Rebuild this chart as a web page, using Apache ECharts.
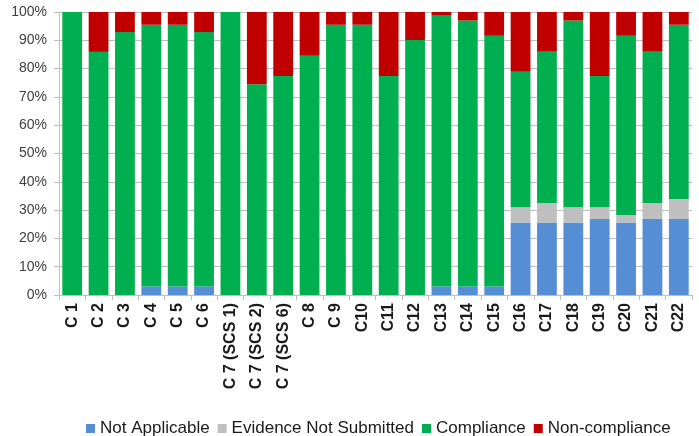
<!DOCTYPE html>
<html>
<head>
<meta charset="utf-8">
<script src="https://cdn.jsdelivr.net/npm/echarts@6/dist/echarts.min.js"></script>
<style>
html,body{margin:0;padding:0;background:#fff;}
#chart{width:699px;height:436px;}
</style>
</head>
<body>
<div id="chart"></div>
<script>
var categories = ['C 1','C 2','C 3','C 4','C 5','C 6','C 7 (SCS 1)','C 7 (SCS 2)','C 7 (SCS 6)','C 8','C 9','C10','C11','C12','C13','C14','C15','C16','C17','C18','C19','C20','C21','C22'];
var notApplicable = [0,0,0,3,3,3,0,0,0,0,0,0,0,0,3,3,3,25.6,25.6,25.6,26.9,25.6,26.9,26.9];
var evidenceNotSubmitted = [0,0,0,0,0,0,0,0,0,0,0,0,0,0,0,0,0,5.4,6.9,5.4,4.1,2.7,5.6,7.0];
var compliance = [100,85.9,92.9,92.5,92.5,89.9,100,74.5,77.4,84.5,95.5,95.5,77.4,90.1,95.7,94,88.6,47.9,53.5,66,46.4,63.3,53.5,61.6];
var nonCompliance = [0,14.1,7.1,4.5,4.5,7.1,0,25.5,22.6,15.5,4.5,4.5,22.6,9.9,1.3,3,8.4,21.1,14,3,22.6,8.4,14,4.5];
var yTicks = [0,10,20,30,40,50,60,70,80,90,100];

var chart = echarts.init(document.getElementById('chart'), null, {renderer:'canvas'});
function s(name, data, color){
  return {name:name, type:'bar', stack:'total', data:data, barWidth:'75%',
    itemStyle:{color:color}, emphasis:{disabled:true}};
}
chart.setOption({
  animation:false,
  textStyle:{fontFamily:'Liberation Sans, Arial, sans-serif'},
  grid:{left:59, right:7, top:12, bottom:141, containLabel:false},
  legend:{
    top:415, left:81, itemWidth:9, itemHeight:9, itemGap:8,
    icon:'rect',
    textStyle:{fontSize:17, color:'#1a1a1a', fontFamily:'Liberation Sans, Arial, sans-serif'},
    data:['Not Applicable','Evidence Not Submitted','Compliance','Non-compliance']
  },
  xAxis:{
    type:'category', data:categories,
    axisLine:{lineStyle:{color:'#BFBFBF'}},
    axisTick:{show:true, alignWithLabel:false, length:5, lineStyle:{color:'#BFBFBF'}},
    axisLabel:{rotate:90, interval:0, margin:8, fontSize:16, fontWeight:'bold', color:'#1a1a1a'}
  },
  yAxis:{
    type:'value', min:0, max:100, interval:10,
    axisLine:{show:true, lineStyle:{color:'#BFBFBF'}},
    axisTick:{show:true, length:5, lineStyle:{color:'#BFBFBF'}},
    splitLine:{lineStyle:{color:'#BFBFBF'}},
    axisLabel:{fontSize:14, color:'#404040', margin:12,
      formatter:function(v){return yTicks.indexOf(v)>=0 ? v+'%' : '';}}
  },
  series:[
    s('Not Applicable', notApplicable, '#558ED5'),
    s('Evidence Not Submitted', evidenceNotSubmitted, '#BFBFBF'),
    s('Compliance', compliance, '#00B050'),
    s('Non-compliance', nonCompliance, '#C00000')
  ]
});
</script>
</body>
</html>
